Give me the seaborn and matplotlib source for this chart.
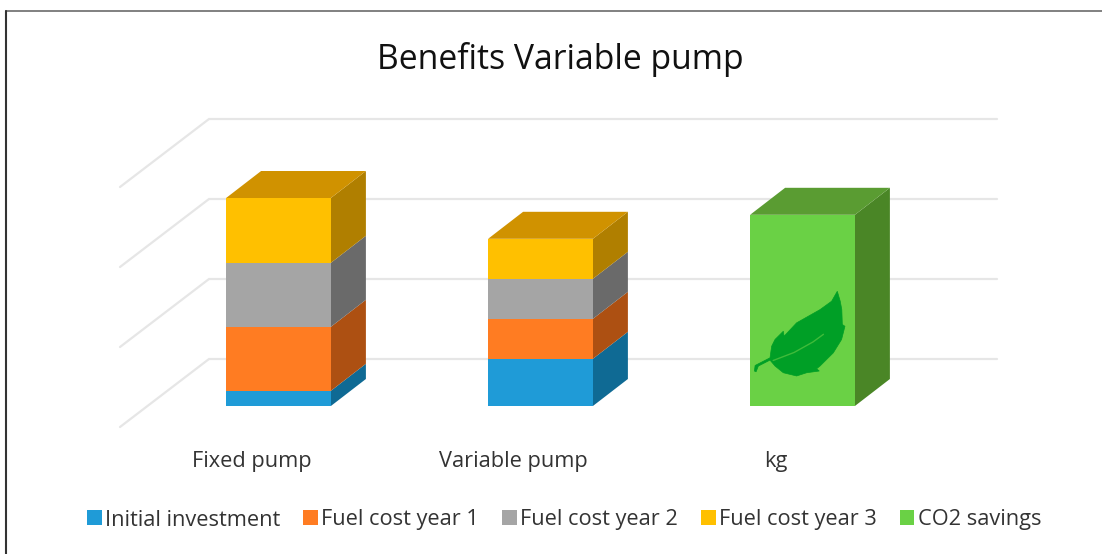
import numpy as np
import pandas as pd
import matplotlib
matplotlib.use("Agg")
import matplotlib.pyplot as plt
from matplotlib.lines import Line2D
from matplotlib.patches import Polygon
from matplotlib.transforms import ScaledTranslation
import seaborn as sns

categories = ["Fixed pump", "Variable pump", "kg"]
series_names = ["Initial investment", "Fuel cost year 1", "Fuel cost year 2", "Fuel cost year 3", "CO2 savings"]
initial_investment = [0.19, 0.59, 0.0]
fuel_year_1 = [0.80, 0.50, 0.0]
fuel_year_2 = [0.80, 0.50, 0.0]
fuel_year_3 = [0.81, 0.50, 0.0]
co2_savings = [0.0, 0.0, 2.39]
series_values = [initial_investment, fuel_year_1, fuel_year_2, fuel_year_3, co2_savings]
grid_values = [0, 1, 2, 3]
colors = ["#1F9BD7", "#FF7C22", "#A5A5A5", "#FFC000", "#6AD145"]
side_colors = ["#0F6A94", "#AD5012", "#6A6A6A", "#B07F00", "#4A8626"]
top_colors = ["#187CAC", "#CC631B", "#848484", "#D09200", "#5A9C32"]

W, H = 1102, 554
AX_BOTTOM = 445
PX_X, PX_Y = 262.0, 80.0      # pixels per category / per unit

sns.set_theme(style="white")
plt.rcParams["font.family"] = ["Open Sans", "DejaVu Sans"]
fig = plt.figure(figsize=(W / 100, H / 100), dpi=100, facecolor="white")
ax = fig.add_axes([0, 1 - AX_BOTTOM / H, 1, AX_BOTTOM / H])
ax.set_facecolor("none")

df = pd.DataFrame({"category": categories})
bottom = np.zeros(len(categories))
for name, values, color in zip(series_names, series_values, colors):
    sns.barplot(data=df.assign(value=values), x="category", y="value", order=categories,
                bottom=bottom, color=color, saturation=1, width=0.4, label=name,
                linewidth=0, errorbar=None, ax=ax, zorder=3)
    bottom = bottom + np.array(values)

ax.set_xlim(-278.5 / PX_X, (W - 278.5) / PX_X)
ax.set_ylim((406 - AX_BOTTOM) / PX_Y, 406 / PX_Y)

# pseudo-3D depth of each bar, derived from the drawn rectangles
dx, dy = 35 / PX_X, 27 / PX_Y
totals = bottom
n_cat = len(categories)
for s, container in enumerate(ax.containers):
    for c, rect in enumerate(container):
        h = rect.get_height()
        if h <= 0:
            continue
        x0, y0, w = rect.get_x(), rect.get_y(), rect.get_width()
        x1, y1 = x0 + w, y0 + h
        ax.add_patch(Polygon([(x1, y0), (x1 + dx, y0 + dy), (x1 + dx, y1 + dy), (x1, y1)],
                             closed=True, fc=side_colors[s], ec="none", zorder=2))
        if abs(y1 - totals[c]) < 1e-9:
            ax.add_patch(Polygon([(x0, y1), (x1, y1), (x1 + dx, y1 + dy), (x0 + dx, y1 + dy)],
                                 closed=True, fc=top_colors[s], ec="none", zorder=2))

# back wall and side wall gridlines
wall_left = (120 - 278.5) / PX_X
wall_corner = (209 - 278.5) / PX_X
wall_right = (997 - 278.5) / PX_X
for g in grid_values:
    ax.plot([wall_left, wall_corner, wall_right],
            [g - 21 / PX_Y, g + 47 / PX_Y, g + 47 / PX_Y],
            color="#E6E6E6", lw=1.6, zorder=1, solid_joinstyle="miter")

# leaf icon placed inside the CO2 bar, in fractions of that bar
leaf_outline = np.array([
    (.832, .600), (.860, .548), (.875, .504), (.880, .426), (.905, .417), (.873, .348),
    (.794, .278), (.667, .209), (.635, .195), (.660, .183), (.540, .174), (.444, .157),
    (.317, .174), (.238, .209), (.190, .240), (.079, .209), (.057, .179), (.041, .183),
    (.048, .212), (.190, .252), (.206, .313), (.238, .348), (.317, .391), (.324, .365),
    (.444, .435), (.667, .504), (.778, .548)])
co2_bar = ax.containers[4][2]
to_data = lambda p: np.column_stack([co2_bar.get_x() + p[:, 0] * co2_bar.get_width(),
                                     co2_bar.get_y() + p[:, 1] * co2_bar.get_height()])
ax.add_patch(Polygon(to_data(leaf_outline), closed=True, fc="#009F26", ec="#009F26", lw=0.5, zorder=4))
vein = to_data(np.array([(.22, .238), (.42, .280), (.60, .335), (.70, .375)]))
ax.plot(vein[:, 0], vein[:, 1], color="#3FBB3A", lw=1.0, zorder=5)

# axis text
ax.set_xlabel("")
ax.set_ylabel("")
ax.set_yticks([])
ax.set_xticks(range(n_cat))
ax.set_xticklabels(categories, fontsize=15.7, color="#333333")
ax.tick_params(axis="x", length=0, pad=4)
shift = ScaledTranslation(-0.27, 0, fig.dpi_scale_trans)
for lab in ax.get_xticklabels():
    lab.set_transform(lab.get_transform() + shift)
sns.despine(ax=ax, left=True, bottom=True, top=True, right=True)

ax.set_title("Benefits Variable pump", fontsize=24.3, color="#111111", x=560 / W,
             y=1 - 69 / AX_BOTTOM, va="baseline", pad=0)

leg = ax.legend(ncols=5, loc="center", bbox_to_anchor=(564 / W, 1 - 520 / H), bbox_transform=fig.transFigure,
                frameon=False, fontsize=15.7, handlelength=0.68, handleheight=0.68, handletextpad=0.15,
                columnspacing=1.05, labelcolor="#333333", borderpad=0, borderaxespad=0)

# chart border (top and left edges only are visible)
fig.add_artist(Line2D([5.5 / W, 1], [1 - 11 / H, 1 - 11 / H], color="#808080", lw=1.4))
fig.add_artist(Line2D([5.5 / W, 5.5 / W], [0, 1 - 11 / H], color="#333333", lw=1.5))

fig.savefig("out.png", dpi=100)
